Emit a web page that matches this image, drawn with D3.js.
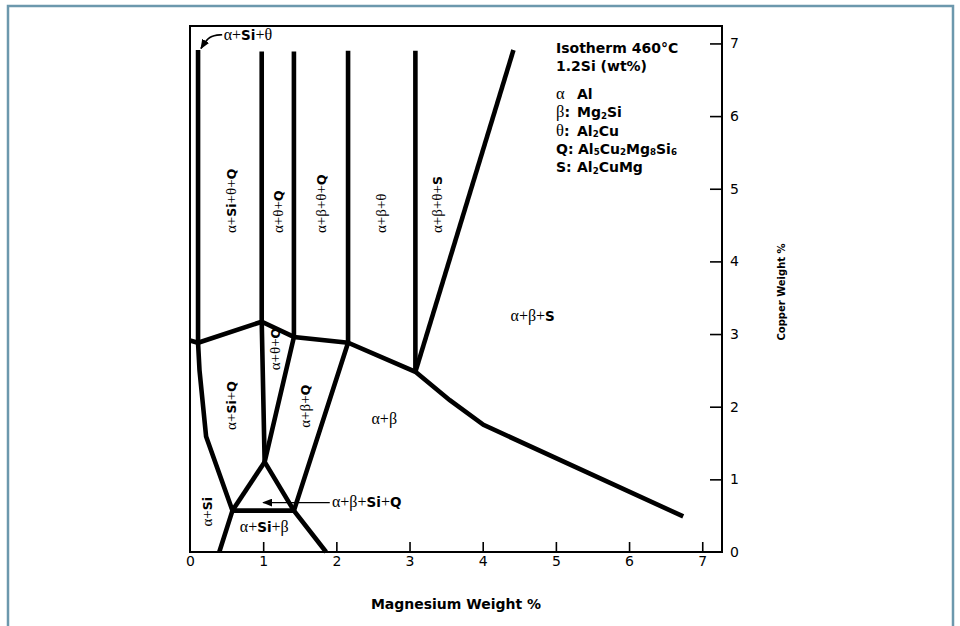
<!DOCTYPE html>
<html>
<head>
<meta charset="utf-8">
<title>Al-Mg-Cu-Si isotherm 460°C</title>
<script src="https://d3js.org/d3.v7.min.js"></script>
<style>
  body { margin: 0; background: #fff; }
  svg { display: block; }
</style>
</head>
<body>
<svg width="960" height="626"></svg>
<script>
// axis ticks
var xTicks = [0, 1, 2, 3, 4, 5, 6, 7];
var yTicks = [0, 1, 2, 3, 4, 5, 6, 7];

// phase boundaries, [Mg wt%, Cu wt%]
var solvusLine = [[0, 2.91], [0.11, 2.88], [0.98, 3.17], [1.42, 2.96], [2.16, 2.88], [3.08, 2.48], [3.55, 2.09], [4.01, 1.75], [6.74, 0.49]];
var verticalLines = [
  [[0.11, 6.91], [0.11, 2.88]],
  [[0.98, 6.89], [0.98, 3.17], [1.02, 1.24]],
  [[1.42, 6.89], [1.42, 2.96]],
  [[2.16, 6.90], [2.16, 2.88]],
  [[3.08, 6.90], [3.08, 2.48]]
];
var sLine = [[3.08, 2.48], [4.42, 6.91]];
var siQLine = [[0.11, 2.88], [0.13, 2.50], [0.22, 1.59], [0.58, 0.57], [0.40, 0]];
var thetaQLine = [[1.42, 2.96], [1.02, 1.24], [1.42, 0.57], [1.86, 0]];
var leftLeg = [[1.02, 1.24], [0.58, 0.57]];
var betaLine = [[0.58, 0.57], [1.42, 0.57], [2.16, 2.88]];

// phase field labels
var rotatedLabels = ["α+Si+θ+Q", "α+θ+Q", "α+β+θ+Q", "α+β+θ", "α+β+θ+S", "α+Si+Q", "α+θ+Q", "α+β+Q", "α+Si"];
var rotatedAt = [[0.55, 4.39], [1.19, 4.39], [1.78, 4.39], [2.60, 4.39], [3.37, 4.39], [0.55, 1.68], [1.16, 2.50], [1.57, 1.71], [0.23, 0.35]];
var flatLabels = ["α+Si+β", "α+β+Si+Q", "α+β", "α+β+S", "α+Si+θ"];
var flatAt = [[0.68, 0.28], [1.94, 0.62], [2.48, 1.76], [4.38, 3.18], [0.46, 7.05]];

// pointers
var pointerQ = [[1.91, 0.68], [1.0, 0.68]];
var pointerTheta = [[0.44, 7.12], [0.26, 7.11], [0.15, 6.93]];

// legend
var legendTitle = ["Isotherm 460°C", "1.2Si (wt%)"];
var legendSymbols = ["α", "β:", "θ:", "Q:", "S:"];
var legendFormulas = ["Al", "Mg2Si", "Al2Cu", "Al5Cu2Mg8Si6", "Al2CuMg"];

var serif = "'Liberation Serif', 'DejaVu Serif', serif";
var sans = "'DejaVu Sans', 'Liberation Sans', sans-serif";

var svg = d3.select("svg");

var plot = {left: 190, right: 722, top: 26, bottom: 552};

var x = d3.scaleLinear().domain([0, 7.27]).range([plot.left, plot.right]);
var y = d3.scaleLinear().domain([0, 7.24]).range([plot.bottom, plot.top]);

// page frame
svg.append("path")
  .attr("d", "M8,626V6H953V626")
  .attr("fill", "none")
  .attr("stroke", "#6c98ad")
  .attr("stroke-width", 2.5);

// arrowhead
svg.append("defs").append("marker")
  .attr("id", "head")
  .attr("viewBox", "0 0 10 8")
  .attr("refX", 9)
  .attr("refY", 4)
  .attr("markerWidth", 10)
  .attr("markerHeight", 8)
  .attr("markerUnits", "userSpaceOnUse")
  .attr("orient", "auto")
  .append("path")
  .attr("d", "M0,0L10,4L0,8Z")
  .attr("fill", "#000");

// axes
var xAxis = d3.axisBottom(x)
  .tickValues(xTicks)
  .tickSizeInner(-10)
  .tickSizeOuter(0)
  .tickPadding(4);

var yAxis = d3.axisRight(y)
  .tickValues(yTicks)
  .tickSizeInner(-12)
  .tickSizeOuter(0)
  .tickPadding(8);

var gx = svg.append("g")
  .attr("transform", "translate(0," + plot.bottom + ")")
  .call(xAxis);

var gy = svg.append("g")
  .attr("transform", "translate(" + plot.right + ",0)")
  .call(yAxis);

[gx, gy].forEach(function(g) {
  g.select(".domain").remove();
  g.selectAll(".tick line").attr("stroke", "#000").attr("stroke-width", 1.6);
  g.selectAll(".tick text")
    .attr("fill", "#000")
    .style("font-family", sans)
    .style("font-size", "14px");
  g.selectAll(".tick").filter(function(d) { return d === 0; }).select("line").remove();
});

// plot border
svg.append("rect")
  .attr("x", plot.left)
  .attr("y", plot.top)
  .attr("width", plot.right - plot.left)
  .attr("height", plot.bottom - plot.top)
  .attr("fill", "none")
  .attr("stroke", "#000")
  .attr("stroke-width", 2);

// boundaries
var line = d3.line()
  .x(function(d) { return x(d[0]); })
  .y(function(d) { return y(d[1]); });

var allLines = [solvusLine, sLine, siQLine, thetaQLine, leftLeg, betaLine].concat(verticalLines);

svg.append("g")
  .selectAll("path")
  .data(allLines)
  .enter().append("path")
  .attr("d", line)
  .attr("fill", "none")
  .attr("stroke", "#000")
  .attr("stroke-width", 4.6)
  .attr("stroke-linejoin", "miter")
  .attr("stroke-linecap", "butt");

// pointers
svg.append("path")
  .attr("d", line(pointerQ))
  .attr("fill", "none")
  .attr("stroke", "#000")
  .attr("stroke-width", 1.3)
  .attr("marker-end", "url(#head)");

svg.append("path")
  .attr("d", line.curve(d3.curveBasis)(pointerTheta))
  .attr("fill", "none")
  .attr("stroke", "#000")
  .attr("stroke-width", 1.6)
  .attr("marker-end", "url(#head)");

// mixed-font text: greek and plus in serif, the rest bold sans, digits as subscripts
function rich(text, str, size, subs) {
  var parts = [];
  str.split("").forEach(function(ch) {
    var kind = /[αβθ+]/.test(ch) ? "g" : (subs && /[0-9]/.test(ch) ? "d" : "l");
    if (parts.length && parts[parts.length - 1].kind === kind) parts[parts.length - 1].s += ch;
    else parts.push({kind: kind, s: ch});
  });
  var shift = 0;
  parts.forEach(function(p) {
    var t = text.append("tspan").text(p.s);
    if (p.kind === "g") {
      t.style("font-family", serif).style("font-weight", "normal").style("font-size", (size + 2.5) + "px");
    } else {
      t.style("font-family", sans).style("font-weight", "bold").style("font-size", (p.kind === "d" ? size * 0.62 : size) + "px");
    }
    var want = p.kind === "d" ? 1.5 : 0;
    if (want !== shift) { t.attr("dy", want - shift); shift = want; }
  });
  return text;
}

// rotated phase labels
rotatedLabels.forEach(function(s, i) {
  var px = x(rotatedAt[i][0]), py = y(rotatedAt[i][1]);
  var t = svg.append("text")
    .attr("transform", "translate(" + px + "," + py + ") rotate(-90)")
    .attr("dy", "0.35em")
    .attr("text-anchor", "start")
    .attr("fill", "#000");
  rich(t, s, 12.5, false);
});

// horizontal phase labels
flatLabels.forEach(function(s, i) {
  var t = svg.append("text")
    .attr("x", x(flatAt[i][0]))
    .attr("y", y(flatAt[i][1]))
    .attr("fill", "#000");
  rich(t, s, 13.5, false);
});

// legend
svg.append("g").selectAll("text")
  .data(legendTitle)
  .enter().append("text")
  .attr("x", 556)
  .attr("y", function(d, i) { return 53 + i * 17.5; })
  .style("font-family", sans)
  .style("font-weight", "bold")
  .style("font-size", "14px")
  .text(function(d) { return d; });

legendSymbols.forEach(function(s, i) {
  var yy = 99 + i * 18.3;
  var t = svg.append("text").attr("x", 556).attr("y", yy).attr("fill", "#000");
  rich(t, s, 14, false);
  var f = svg.append("text").attr("x", s === "Q:" ? 578 : 577).attr("y", yy).attr("fill", "#000");
  rich(f, legendFormulas[i], 14, true);
});

// axis titles
svg.append("text")
  .attr("x", (plot.left + plot.right) / 2)
  .attr("y", 609)
  .attr("text-anchor", "middle")
  .style("font-family", sans)
  .style("font-weight", "bold")
  .style("font-size", "14px")
  .text("Magnesium Weight %");

svg.append("text")
  .attr("transform", "translate(781,292) rotate(-90)")
  .attr("text-anchor", "middle")
  .attr("dy", "0.35em")
  .style("font-family", sans)
  .style("font-weight", "bold")
  .style("font-size", "10px")
  .text("Copper Weight %");
</script>
</body>
</html>
